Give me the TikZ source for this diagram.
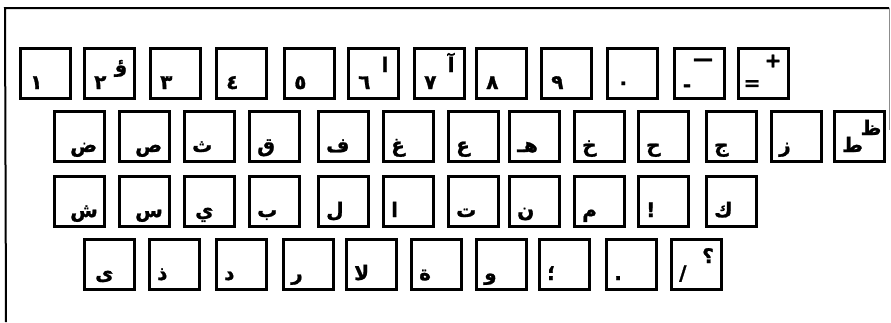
\documentclass[tikz,border=0pt]{standalone}
\usepackage{fontspec}
\newfontfamily\arabicfont[Script=Arabic, BoldFeatures={FakeBold=1.2}]{DejaVu Sans}
\TeXXeTstate=1
\newcommand\ar[1]{\beginR #1\endR}
\tikzset{
  keybox/.style={draw=black, line width=3pt, minimum width=50pt, minimum height=50pt, inner sep=0pt},
  keych/.style={inner sep=0pt, font=\arabicfont\bfseries\fontsize{20}{20}\selectfont},
  mainch/.style={keych, anchor=base west},
  shiftch/.style={keych, anchor=base},
  frameline/.style={line width=2pt, black},
  faintline/.style={line width=1pt, black!45}
}
\newcommand\mx{11}
% key without shifted character: name, x0, y0, main
\newcommand\kk[5][0]{%
  \node[keybox] (#2) at (#3+26.5,#4+26.5) {};
  \node[mainch] (#2m) at (#3+\mx+#1,#4+42) {\ar{#5}};
}
% key with shifted character: name, x0, y0, main, shift
\newcommand\ks[5]{%
  \kk{#1}{#2}{#3}{#4}%
  \node[shiftch] (#1s) at (#2+38,#3+25) {\ar{#5}};
}
\begin{document}
\begin{tikzpicture}[x=1pt,y=-1pt]
\useasboundingbox (0,0) rectangle (891,322);
% frame
\coordinate (ftl) at (5,8);
\coordinate (ftr) at (889,8);
\coordinate (fbl) at (6,322);
\coordinate (frb) at (889,130);
\draw[frameline] (fbl) -- (ftl) -- (ftr);
\draw[faintline] (ftr) -- (frb);
% row 1
\kk{a1}{19}{47}{١}
\ks{a2}{83}{47}{٢}{ؤ}
\kk{a3}{149}{47}{٣}
\kk{a4}{215}{47}{٤}
\kk{a5}{283}{47}{٥}
\ks{a6}{347}{47}{٦}{ا}
\ks{a7}{413}{47}{٧}{آ}
\kk{a8}{475}{47}{٨}
\kk{a9}{540}{47}{٩}
\kk{a10}{606}{47}{٠}
\node[keybox] (a11) at (673+26.5,47+26.5) {};
\node[keych] (a11m) at (673+14,47+41) {-};
\node[keych] (a11s) at (673+30,47+15) {—};
\node[keybox] (a12) at (737+26.5,47+26.5) {};
\node[keych] (a12m) at (737+15,47+38) {=};
\node[keych] (a12s) at (737+36,47+14) {+};
% row 2
\renewcommand\mx{9}
\kk[8]{b1}{53}{110}{ض}
\kk[8]{b2}{118}{110}{ص}
\kk{b3}{183}{110}{ث}
\kk{b4}{248}{110}{ق}
\kk{b5}{317}{110}{ف}
\kk{b6}{382}{110}{غ}
\kk{b7}{447}{110}{ع}
\kk{b8}{508}{110}{هـ}
\kk{b9}{573}{110}{خ}
\kk{b10}{637}{110}{ح}
\kk{b11}{705}{110}{ج}
\kk{b12}{770}{110}{ز}
\ks{b13}{833}{110}{ط}{ظ}
% row 3
\kk[8]{c1}{53}{175}{ش}
\kk[8]{c2}{118}{175}{س}
\kk[3]{c3}{183}{175}{ي}
\kk{c4}{248}{175}{ب}
\kk{c5}{317}{175}{ل}
\kk{c6}{382}{175}{ا}
\kk{c7}{447}{175}{ت}
\kk{c8}{508}{175}{ن}
\kk{c9}{573}{175}{م}
\kk{c10}{637}{175}{!}
\kk{c11}{705}{175}{ك}
% row 4
\kk[3]{d1}{83}{238}{ى}
\kk{d2}{148}{238}{ذ}
\kk{d3}{215}{238}{د}
\kk{d4}{282}{238}{ر}
\kk{d5}{345}{238}{لا}
\kk{d6}{410}{238}{ة}
\kk{d7}{475}{238}{و}
\kk{d8}{538}{238}{؛}
\kk{d9}{605}{238}{.}
\ks{d10}{670}{238}{/}{؟}
\end{tikzpicture}
\end{document}
